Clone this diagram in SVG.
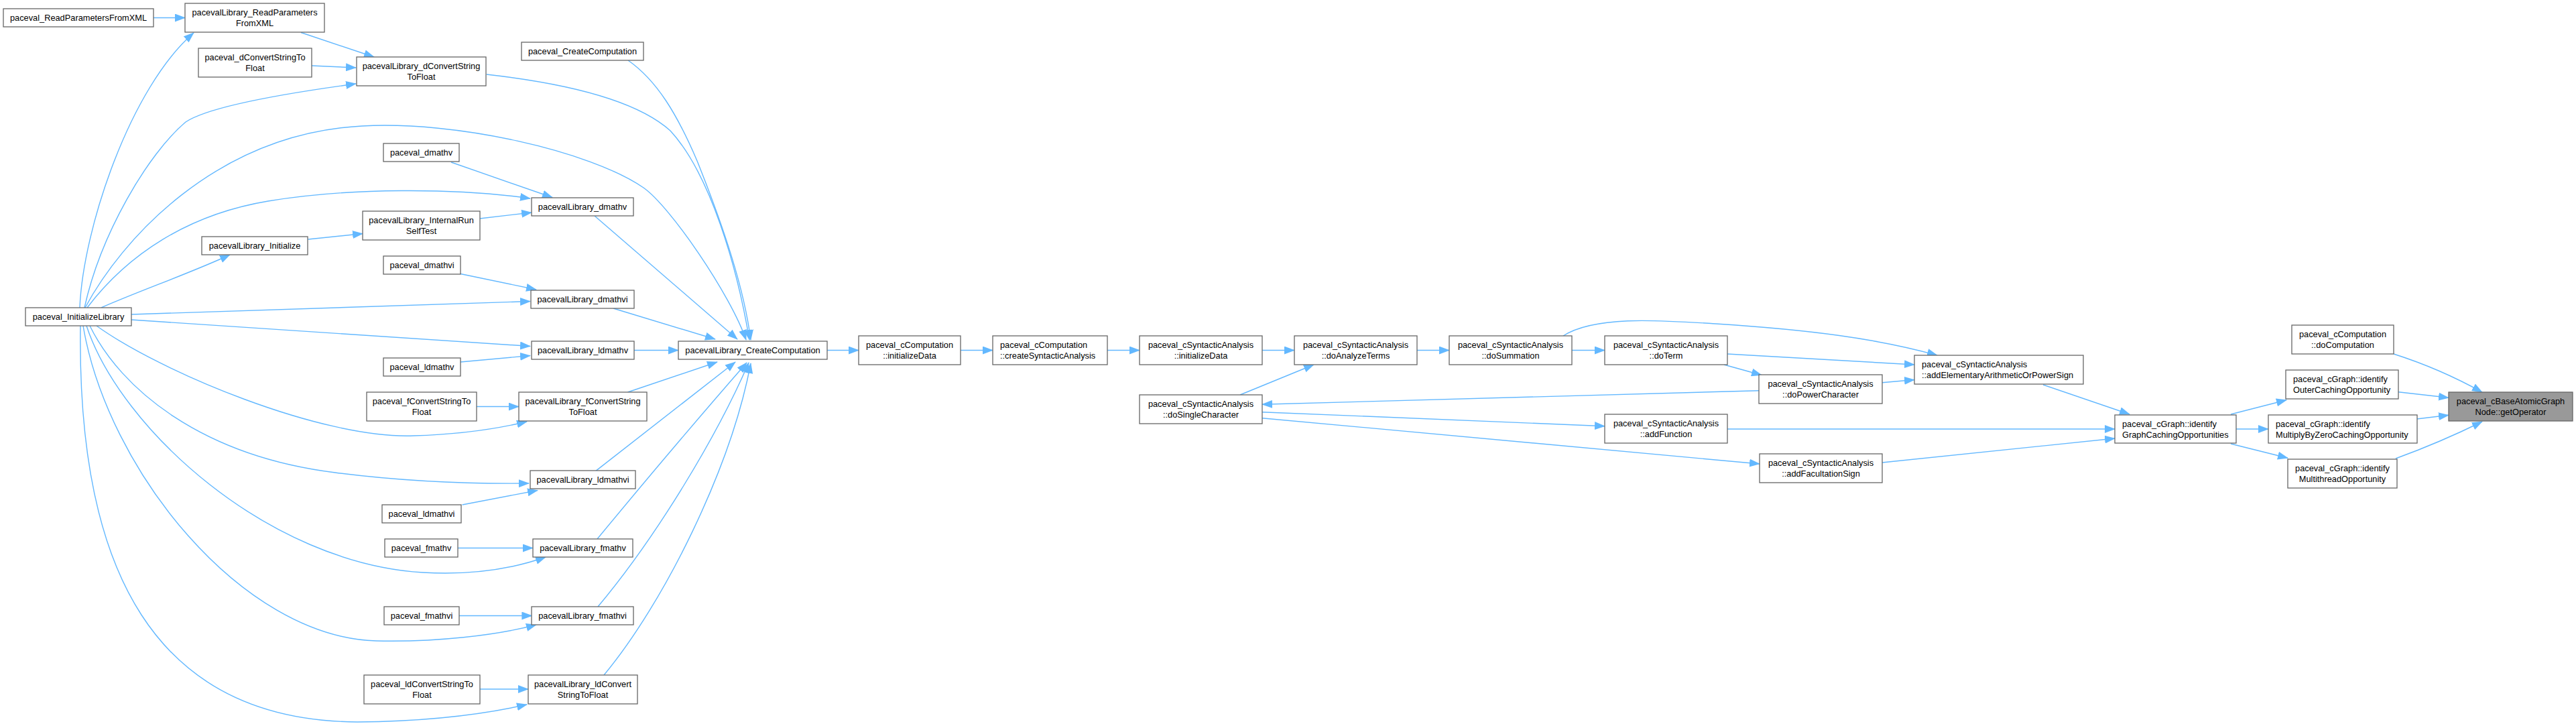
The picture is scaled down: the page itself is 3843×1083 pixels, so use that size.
<svg xmlns="http://www.w3.org/2000/svg" width="3843" height="1083" viewBox="0 0 3843 1083">
<style>
.n rect{fill:#fff;stroke:#666;stroke-width:1.3}
.f rect{fill:#999;stroke:#666;stroke-width:1.3}
text{font-family:"Liberation Sans",Arial,sans-serif;font-size:12.8px;fill:#000}
.c{text-anchor:middle}
.e path{fill:none;stroke:#63b8ff;stroke-width:1.4;marker-end:url(#ah)}
</style>
<defs>
<marker id="ah" markerUnits="userSpaceOnUse" markerWidth="16" markerHeight="12" viewBox="0 0 16 12" refX="15" refY="6" orient="auto">
<path d="M0,0 L16,6 L0,12 z" fill="#63b8ff" stroke="none"/>
</marker>
</defs>
<rect width="3843" height="1083" fill="#fff"/>
<g class="e" id="edges">
<path d="M229,26.5 L276,26.5"/>
<path d="M119,459 C124,340 195,130 289,49"/>
<path d="M449,48.5 L558,85"/>
<path d="M465,98 L531,101"/>
<path d="M126,459 C150,350 220,230 277,182 C310,160 420,140 531,125"/>
<path d="M726,111 C850,125 950,150 1000,195 C1060,260 1100,400 1118,507"/>
<path d="M937,90 C980,120 1010,170 1040,240 C1080,340 1110,430 1120,507"/>
<path d="M127,459 C180,360 320,200 540,188 C680,180 880,225 960,280 C1000,308 1090,440 1113,507"/>
<path d="M673,242 L824,294.5"/>
<path d="M130,459 C190,380 280,320 400,300 C520,280 680,280 791,296"/>
<path d="M716,326 L793,317"/>
<path d="M459.5,357 L541,348.5"/>
<path d="M151,459 C200,437 290,405 343,380"/>
<path d="M887,322 L1100,506"/>
<path d="M687,408.5 L800,432"/>
<path d="M196,469 L791,449.5"/>
<path d="M915,460 L1067,506"/>
<path d="M196,477 L791,516.5"/>
<path d="M687,540 L791,530.5"/>
<path d="M946,522.5 L1012,522.5"/>
<path d="M711,606.5 L774,606.5"/>
<path d="M144,486 C240,555 480,655 617,650 C690,648 740,640 786,629"/>
<path d="M936.5,585 L1070,540"/>
<path d="M134,486 C180,580 300,680 500,705 C600,718 700,722 789,721"/>
<path d="M689.6,753 L802,731.5"/>
<path d="M889,702.4 L1097,540"/>
<path d="M683,817.5 L795,817.5"/>
<path d="M129,486 C180,640 400,840 631,854 C700,858 760,850 814,831"/>
<path d="M891,804 Q1010,660 1114,541"/>
<path d="M684.7,918.5 L793.4,918.5"/>
<path d="M124,486 C160,700 360,950 561,956 C650,958 740,948 800,932"/>
<path d="M892,905 C980,800 1070,650 1117,541"/>
<path d="M715.5,1028 L788,1028"/>
<path d="M120,486 C115,850 230,1075 533,1077 C640,1076 720,1066 786,1051"/>
<path d="M901,1007 C990,900 1090,700 1120,542"/>
<path d="M1234,522.5 L1281,522.5"/>
<path d="M1433,522.5 L1481,522.5"/>
<path d="M1652,522.5 L1700,522.5"/>
<path d="M1883,522.5 L1931,522.5"/>
<path d="M1850,589 L1960,544"/>
<path d="M2114,522.5 L2162,522.5"/>
<path d="M2345,522.5 L2394,522.5"/>
<path d="M2332,501 C2380,470 2480,478 2560,483 C2700,492 2800,505 2890,530"/>
<path d="M2577,528 L2856,544"/>
<path d="M2572,544 L2628,559.5"/>
<path d="M2808,570.7 L2856,566.5"/>
<path d="M2624,582.7 L1883,603.3"/>
<path d="M1883,614.7 L2394,635.7"/>
<path d="M1883,623.7 L2625,692"/>
<path d="M3048,574 L3177,618"/>
<path d="M2577,640 L3155,640"/>
<path d="M2808,690 L3155,654"/>
<path d="M3328,618 L3411,596.7"/>
<path d="M3336,640 L3384,640"/>
<path d="M3328,662 L3413,683.3"/>
<path d="M3571,528 Q3640,550 3703,585"/>
<path d="M3578,584.7 L3653,593.3"/>
<path d="M3605.5,625 L3653,619.3"/>
<path d="M3574,684 Q3640,660 3703,629"/>
</g>
<g id="n_readXML" class="n"><rect x="5" y="13" width="224" height="27"/><text class="c" x="117" y="31">paceval_ReadParametersFromXML</text></g>
<g id="n_initLib" class="n"><rect x="38" y="459" width="158" height="27"/><text class="c" x="117" y="477">paceval_InitializeLibrary</text></g>
<g id="n_libReadXML" class="n"><rect x="276" y="5" width="208" height="43"/><text class="c" x="380" y="23.2">pacevalLibrary_ReadParameters</text><text class="c" x="380" y="39">FromXML</text></g>
<g id="n_dConv" class="n"><rect x="296" y="72" width="169" height="43"/><text class="c" x="380.5" y="90.2">paceval_dConvertStringTo</text><text class="c" x="380.5" y="106">Float</text></g>
<g id="n_libInit" class="n"><rect x="301" y="353" width="158" height="27"/><text class="c" x="380" y="370.8">pacevalLibrary_Initialize</text></g>
<g id="n_libdConv" class="n"><rect x="532" y="85" width="193" height="43"/><text class="c" x="628.5" y="103.2">pacevalLibrary_dConvertString</text><text class="c" x="628.5" y="119">ToFloat</text></g>
<g id="n_dmathv" class="n"><rect x="572" y="214" width="113" height="27"/><text class="c" x="628.5" y="231.8">paceval_dmathv</text></g>
<g id="n_selfTest" class="n"><rect x="541" y="315" width="175" height="43"/><text class="c" x="628.5" y="333.2">pacevalLibrary_InternalRun</text><text class="c" x="628.5" y="349">SelfTest</text></g>
<g id="n_dmathvi" class="n"><rect x="572" y="382" width="115" height="27"/><text class="c" x="629.5" y="399.8">paceval_dmathvi</text></g>
<g id="n_ldmathv" class="n"><rect x="572" y="534" width="115" height="27"/><text class="c" x="629.5" y="551.8">paceval_ldmathv</text></g>
<g id="n_fConv" class="n"><rect x="547" y="585" width="164" height="43"/><text class="c" x="629" y="603.2">paceval_fConvertStringTo</text><text class="c" x="629" y="619">Float</text></g>
<g id="n_ldmathvi" class="n"><rect x="570" y="753" width="118" height="27"/><text class="c" x="629" y="770.8">paceval_ldmathvi</text></g>
<g id="n_fmathv" class="n"><rect x="574" y="804" width="109" height="27"/><text class="c" x="628.5" y="821.8">paceval_fmathv</text></g>
<g id="n_fmathvi" class="n"><rect x="573" y="905" width="112" height="27"/><text class="c" x="629" y="922.8">paceval_fmathvi</text></g>
<g id="n_ldConv" class="n"><rect x="543" y="1007" width="173" height="43"/><text class="c" x="629.5" y="1025.2">paceval_ldConvertStringTo</text><text class="c" x="629.5" y="1041">Float</text></g>
<g id="n_createComp" class="n"><rect x="778" y="63" width="182" height="27"/><text class="c" x="869" y="80.8">paceval_CreateComputation</text></g>
<g id="n_libdmathv" class="n"><rect x="793" y="295" width="152" height="27"/><text class="c" x="869" y="312.8">pacevalLibrary_dmathv</text></g>
<g id="n_libdmathvi" class="n"><rect x="792" y="433" width="154" height="27"/><text class="c" x="869" y="450.8">pacevalLibrary_dmathvi</text></g>
<g id="n_libldmathv" class="n"><rect x="793" y="509" width="153" height="27"/><text class="c" x="869.5" y="526.8">pacevalLibrary_ldmathv</text></g>
<g id="n_libfConv" class="n"><rect x="774" y="585" width="191" height="43"/><text class="c" x="869.5" y="603.2">pacevalLibrary_fConvertString</text><text class="c" x="869.5" y="619">ToFloat</text></g>
<g id="n_libldmathvi" class="n"><rect x="791" y="702" width="157" height="27"/><text class="c" x="869.5" y="719.8">pacevalLibrary_ldmathvi</text></g>
<g id="n_libfmathv" class="n"><rect x="795" y="804" width="149" height="27"/><text class="c" x="869.5" y="821.8">pacevalLibrary_fmathv</text></g>
<g id="n_libfmathvi" class="n"><rect x="793" y="905" width="152" height="27"/><text class="c" x="869" y="922.8">pacevalLibrary_fmathvi</text></g>
<g id="n_libldConv" class="n"><rect x="788" y="1007" width="163" height="43"/><text class="c" x="869.5" y="1025.2">pacevalLibrary_ldConvert</text><text class="c" x="869.5" y="1041">StringToFloat</text></g>
<g id="n_libCreate" class="n"><rect x="1012" y="509" width="222" height="27"/><text class="c" x="1123" y="526.8">pacevalLibrary_CreateComputation</text></g>
<g id="n_ccInit" class="n"><rect x="1281" y="501" width="152" height="43"/><text class="c" x="1357" y="519.2">paceval_cComputation</text><text class="c" x="1357" y="535">::initializeData</text></g>
<g id="n_ccCreateSA" class="n"><rect x="1481" y="501" width="171" height="43"/><text x="1492" y="519.2">paceval_cComputation</text><text x="1492" y="535">::createSyntacticAnalysis</text></g>
<g id="n_saInit" class="n"><rect x="1700" y="501" width="183" height="43"/><text class="c" x="1791.5" y="519.2">paceval_cSyntacticAnalysis</text><text class="c" x="1791.5" y="535">::initializeData</text></g>
<g id="n_saSingle" class="n"><rect x="1700" y="589" width="183" height="43"/><text class="c" x="1791.5" y="607.2">paceval_cSyntacticAnalysis</text><text class="c" x="1791.5" y="623">::doSingleCharacter</text></g>
<g id="n_saAnalyze" class="n"><rect x="1931" y="501" width="183" height="43"/><text class="c" x="2022.5" y="519.2">paceval_cSyntacticAnalysis</text><text class="c" x="2022.5" y="535">::doAnalyzeTerms</text></g>
<g id="n_saSum" class="n"><rect x="2162" y="501" width="183" height="43"/><text class="c" x="2253.5" y="519.2">paceval_cSyntacticAnalysis</text><text class="c" x="2253.5" y="535">::doSummation</text></g>
<g id="n_saTerm" class="n"><rect x="2394" y="501" width="183" height="43"/><text class="c" x="2485.5" y="519.2">paceval_cSyntacticAnalysis</text><text class="c" x="2485.5" y="535">::doTerm</text></g>
<g id="n_saFunc" class="n"><rect x="2394" y="618" width="183" height="43"/><text class="c" x="2485.5" y="636.2">paceval_cSyntacticAnalysis</text><text class="c" x="2485.5" y="652">::addFunction</text></g>
<g id="n_saPow" class="n"><rect x="2624" y="559" width="184" height="43"/><text class="c" x="2716" y="577.2">paceval_cSyntacticAnalysis</text><text class="c" x="2716" y="593">::doPowerCharacter</text></g>
<g id="n_saFac" class="n"><rect x="2625" y="677" width="183" height="43"/><text class="c" x="2716.5" y="695.2">paceval_cSyntacticAnalysis</text><text class="c" x="2716.5" y="711">::addFacultationSign</text></g>
<g id="n_saElem" class="n"><rect x="2856" y="530" width="252" height="43"/><text x="2867" y="548.2">paceval_cSyntacticAnalysis</text><text x="2867" y="564">::addElementaryArithmeticOrPowerSign</text></g>
<g id="n_gGraph" class="n"><rect x="3155" y="619" width="181" height="42"/><text x="3166" y="636.7">paceval_cGraph::identify</text><text x="3166" y="652.5">GraphCachingOpportunities</text></g>
<g id="n_ccDoComp" class="n"><rect x="3419" y="485" width="152" height="43"/><text class="c" x="3495" y="503.2">paceval_cComputation</text><text class="c" x="3495" y="519">::doComputation</text></g>
<g id="n_gOuter" class="n"><rect x="3410" y="552" width="168" height="43"/><text x="3421" y="570.2">paceval_cGraph::identify</text><text x="3421" y="586">OuterCachingOpportunity</text></g>
<g id="n_gMulZero" class="n"><rect x="3384" y="619" width="222" height="42"/><text x="3395" y="636.7">paceval_cGraph::identify</text><text x="3395" y="652.5">MultiplyByZeroCachingOpportunity</text></g>
<g id="n_gMultithread" class="n"><rect x="3413" y="685" width="163" height="43"/><text class="c" x="3494.5" y="703.2">paceval_cGraph::identify</text><text class="c" x="3494.5" y="719">MultithreadOpportunity</text></g>
<g id="n_getOp" class="f"><rect x="3653" y="585" width="185" height="43"/><text class="c" x="3745.5" y="603.2">paceval_cBaseAtomicGraph</text><text class="c" x="3745.5" y="619">Node::getOperator</text></g>
</svg>
